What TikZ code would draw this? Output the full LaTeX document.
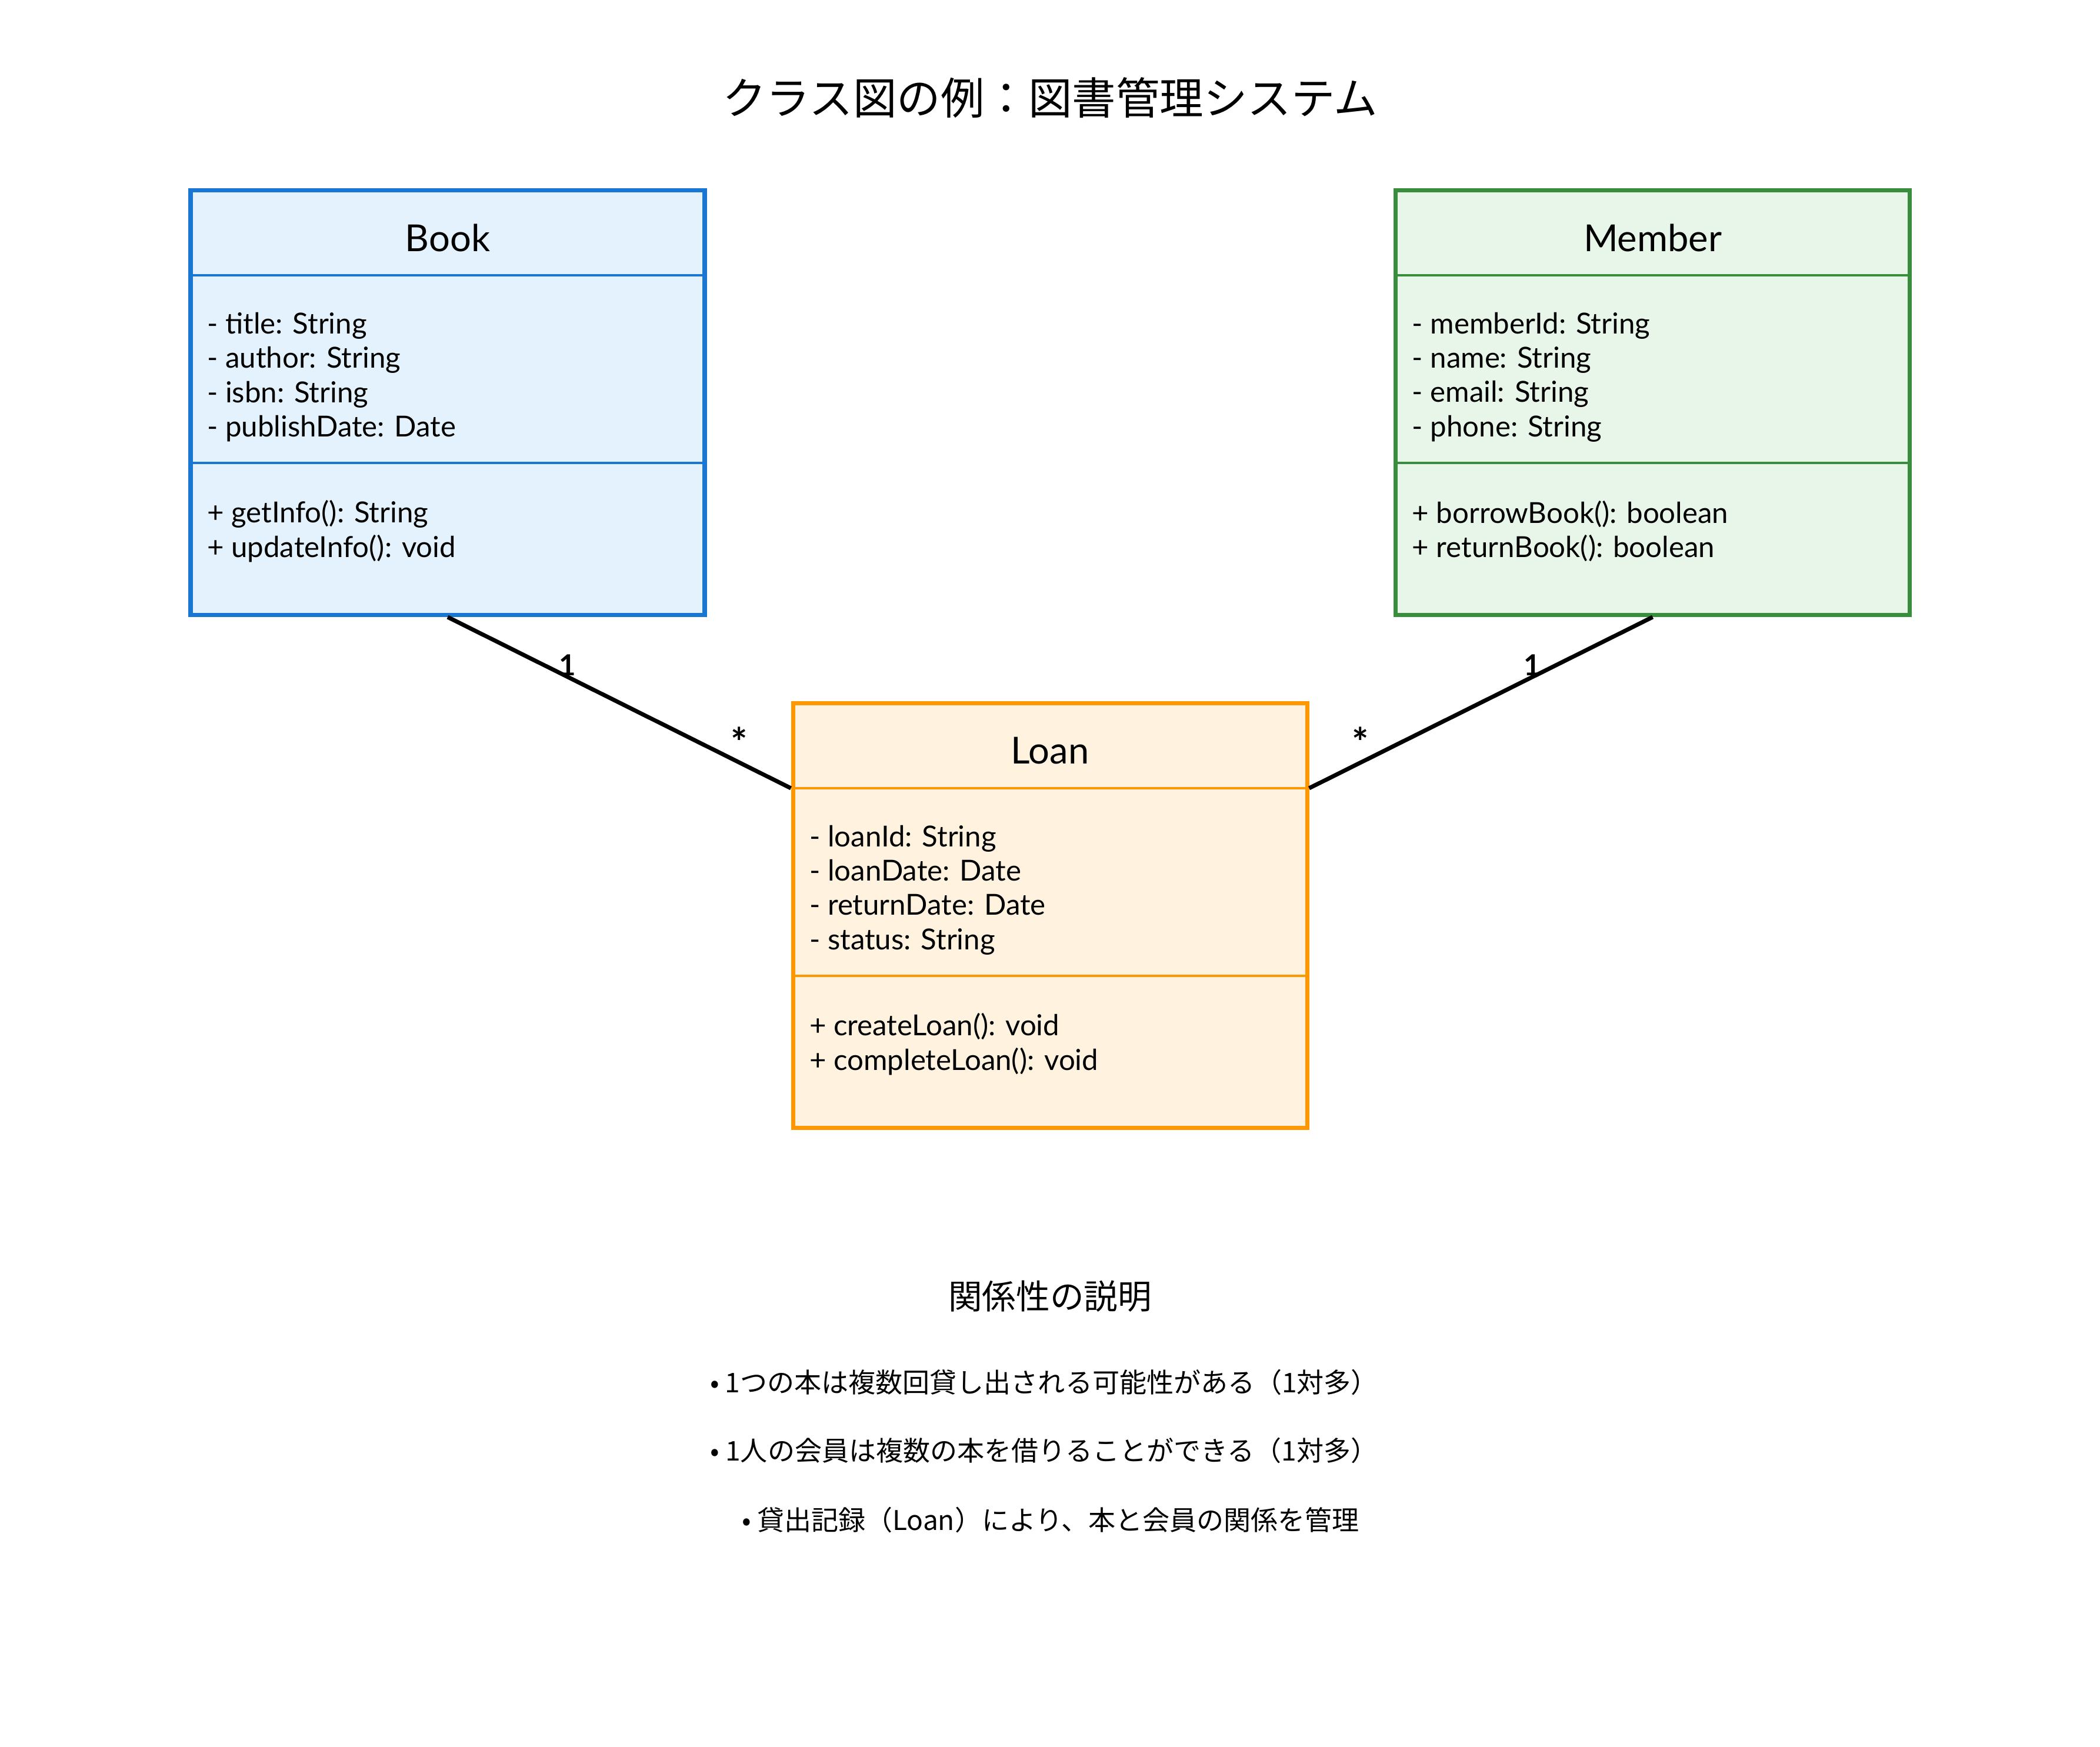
\documentclass[tikz,border=0pt]{standalone}
\usepackage{fontspec}
\setmainfont{Lato}
\newfontfamily\jpfont{Noto Sans CJK JP}
\usetikzlibrary{positioning,calc}
\definecolor{bookblue}{HTML}{1976D2}
\definecolor{bookfill}{HTML}{E3F2FD}
\definecolor{membergreen}{HTML}{388E3C}
\definecolor{memberfill}{HTML}{E8F5E9}
\definecolor{loanorange}{HTML}{FF9800}
\definecolor{loanfill}{HTML}{FFF3E0}
\tikzstyle{classbox} = [rectangle, minimum width=8.74cm, minimum height=7.22cm, line width=2pt, inner sep=0pt]
\tikzstyle{classname} = [font=\fontsize{18}{22}\selectfont]
\tikzstyle{members} = [anchor=west, align=left, inner sep=0pt, font=\fontsize{14}{16.6}\selectfont]
\tikzstyle{divider} = [line width=1pt]
\tikzstyle{assoc} = [line width=2pt, black]
\tikzstyle{mult} = [font=\bfseries\fontsize{14}{16}\selectfont]
\tikzstyle{many} = [font=\bfseries\fontsize{19}{20}\selectfont]
\tikzstyle{note} = [font=\jpfont\fontsize{13.1}{15}\selectfont]

\begin{document}
\begin{tikzpicture}
    \fill[white] (0,0) rectangle (35.7,-29.7);
    \useasboundingbox (0,0) rectangle (35.7,-29.7);

    \node[font=\jpfont\fontsize{21.2}{25}\selectfont] (title) at (17.85,-1.66) {クラス図の例：図書管理システム};

    % classes
    \node[classbox, draw=bookblue, fill=bookfill] (book) at (7.61,-6.845) {};
    \node[classbox, draw=membergreen, fill=memberfill] (member) at (28.095,-6.845) {};
    \node[classbox, draw=loanorange, fill=loanfill] (loan) at (17.85,-15.565) {};

    \node[classname] (bookname) at ($(book.north)+(0,-0.84)$) {Book};
    \draw[divider, bookblue] ($(book.north west)+(0,-1.48)$) -- ($(book.north east)+(0,-1.48)$);
    \node[members] (bookattr) at ($(book.north west)+(0.31,-3.21)$) {- title: String\\- author: String\\- isbn: String\\- publishDate: Date};
    \draw[divider, bookblue] ($(book.north west)+(0,-4.67)$) -- ($(book.north east)+(0,-4.67)$);
    \node[members] (bookops) at ($(book.north west)+(0.31,-5.83)$) {+ getInfo(): String\\+ updateInfo(): void};

    \node[classname] (membername) at ($(member.north)+(0,-0.84)$) {Member};
    \draw[divider, membergreen] ($(member.north west)+(0,-1.48)$) -- ($(member.north east)+(0,-1.48)$);
    \node[members] (memberattr) at ($(member.north west)+(0.31,-3.21)$) {- memberId: String\\- name: String\\- email: String\\- phone: String};
    \draw[divider, membergreen] ($(member.north west)+(0,-4.67)$) -- ($(member.north east)+(0,-4.67)$);
    \node[members] (memberops) at ($(member.north west)+(0.31,-5.83)$) {+ borrowBook(): boolean\\+ returnBook(): boolean};

    \node[classname] (loanname) at ($(loan.north)+(0,-0.84)$) {Loan};
    \draw[divider, loanorange] ($(loan.north west)+(0,-1.48)$) -- ($(loan.north east)+(0,-1.48)$);
    \node[members] (loanattr) at ($(loan.north west)+(0.31,-3.21)$) {- loanId: String\\- loanDate: Date\\- returnDate: Date\\- status: String};
    \draw[divider, loanorange] ($(loan.north west)+(0,-4.67)$) -- ($(loan.north east)+(0,-4.67)$);
    \node[members] (loanops) at ($(loan.north west)+(0.31,-5.83)$) {+ createLoan(): void\\+ completeLoan(): void};

    % associations
    \coordinate (loanl) at ($(loan.north west)+(0,-1.48)$);
    \coordinate (loanr) at ($(loan.north east)+(0,-1.48)$);
    \draw[assoc] (book.south) -- node[mult, pos=0.35, yshift=0.2cm] {1} node[many, pos=0.85, yshift=0.35cm] {*} (loanl);
    \draw[assoc] (member.south) -- node[mult, pos=0.35, yshift=0.2cm] {1} node[many, pos=0.85, yshift=0.35cm] {*} (loanr);

    % notes
    \node[font=\jpfont\fontsize{16.4}{20}\selectfont] (notehead) at (17.85,-22.04) {関係性の説明};
    \node[note] (note1) at (17.75,-23.50) {• 1つの本は複数回貸し出される可能性がある（1対多）};
    \node[note] (note2) at (17.75,-24.66) {• 1人の会員は複数の本を借りることができる（1対多）};
    \node[note] (note3) at (17.86,-25.84) {• 貸出記録（Loan）により、本と会員の関係を管理};
\end{tikzpicture}
\end{document}
